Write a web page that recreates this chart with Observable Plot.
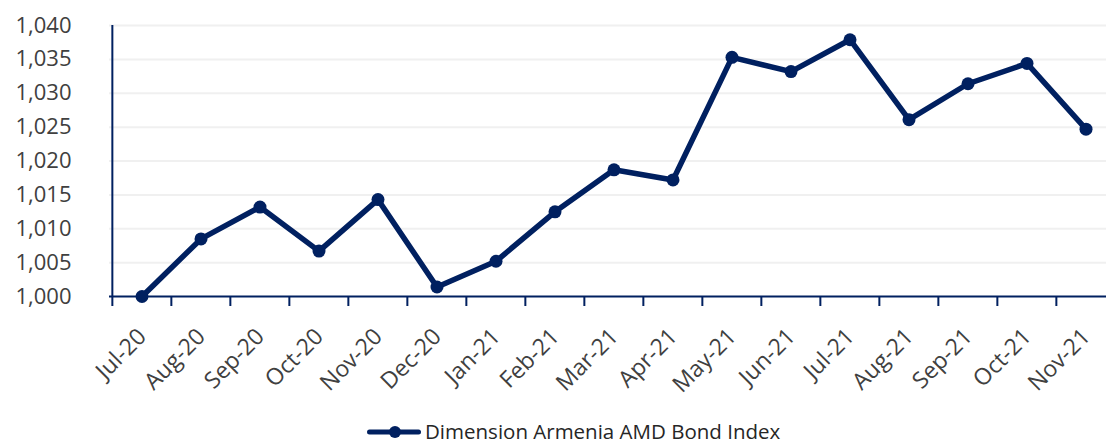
<!DOCTYPE html>
<html>
<head>
<meta charset="utf-8">
<script src="https://cdn.jsdelivr.net/npm/d3@7"></script>
<script src="https://cdn.jsdelivr.net/npm/@observablehq/plot@0.6"></script>
<style>
  html, body { margin: 0; padding: 0; background: #fff; }
  body { width: 1106px; height: 445px; overflow: hidden; font-family: "Open Sans", sans-serif; }
  #chart svg { display: block; }
  #legend { height: 26px; display: flex; align-items: center; justify-content: flex-start; padding-left: 367px; color: #262626; font-size: 20.5px; line-height: 1.15; }
  #legend .sw { display: inline-block; width: 54px; height: 14px; margin-right: 4px; }
</style>
</head>
<body>
<div id="chart"></div>
<div id="legend"></div>
<script>
const months = ["Jul-20","Aug-20","Sep-20","Oct-20","Nov-20","Dec-20","Jan-21","Feb-21","Mar-21","Apr-21","May-21","Jun-21","Jul-21","Aug-21","Sep-21","Oct-21","Nov-21"];
const values = [1000.0, 1008.5, 1013.2, 1006.7, 1014.3, 1001.4, 1005.2, 1012.5, 1018.7, 1017.2, 1035.3, 1033.2, 1037.9, 1026.1, 1031.4, 1034.4, 1024.7];
const yTicks = [1000, 1005, 1010, 1015, 1020, 1025, 1030, 1035, 1040];
const seriesName = "Dimension Armenia AMD Bond Index";

const navy = "#002060";
const textColor = "#404040";
const data = months.map((m, i) => ({month: m, value: values[i]}));

const x0 = 109, x1 = 1117;
const bw = (x1 - x0) / months.length;
const yPx = [296, 25];
const pxPerUnit = (yPx[0] - yPx[1]) / (yTicks[yTicks.length - 1] - yTicks[0]);
const tickLen = 10 / pxPerUnit;

const chart = Plot.plot({
  width: 1106,
  height: 419,
  marginLeft: x0,
  marginRight: 0,
  marginTop: 0,
  marginBottom: 0,
  style: {fontFamily: "'Open Sans', sans-serif", color: textColor, background: "#fff"},
  x: {type: "band", domain: months, range: [x0, x1], padding: 0, axis: null},
  y: {domain: [yTicks[0], yTicks[yTicks.length - 1]], range: yPx, axis: null},
  marks: [
    Plot.ruleY(yTicks.slice(1), {stroke: "#f0f0f0", strokeWidth: 2}),
    Plot.ruleY([yTicks[0]], {stroke: navy, strokeWidth: 2}),
    Plot.ruleX(months.slice(1), {x: d => d, dx: -bw / 2, y1: yTicks[0], y2: yTicks[0] - tickLen, stroke: navy, strokeWidth: 2}),
    Plot.ruleX([months[0]], {x: d => d, dx: -bw / 2, y1: yTicks[yTicks.length - 1], y2: yTicks[0] - tickLen, stroke: navy, strokeWidth: 2}),
    Plot.axisY({ticks: yTicks, tickFormat: d3.format(","), tickSize: 0, tickPadding: 38, fontSize: 22, fill: textColor, label: null}),
    Plot.text(months, {x: d => d, y: yTicks[0], text: d => d, rotate: -45, textAnchor: "end", lineAnchor: "top", dx: -6, dy: 30, fontSize: 23, fill: textColor}),
    Plot.line(data, {x: "month", y: "value", stroke: navy, strokeWidth: 5.5, strokeLinejoin: "round"}),
    Plot.dot(data, {x: "month", y: "value", r: 6.5, fill: navy, stroke: "none"})
  ]
});
document.getElementById("chart").appendChild(chart);

const legend = document.getElementById("legend");
legend.innerHTML = `<svg class="sw" viewBox="0 0 54 14"><line x1="2.5" y1="7" x2="51.5" y2="7" stroke="${navy}" stroke-width="5" stroke-linecap="round"/><circle cx="28" cy="7" r="6" fill="${navy}"/></svg><span>${seriesName}</span>`;
</script>
</body>
</html>
